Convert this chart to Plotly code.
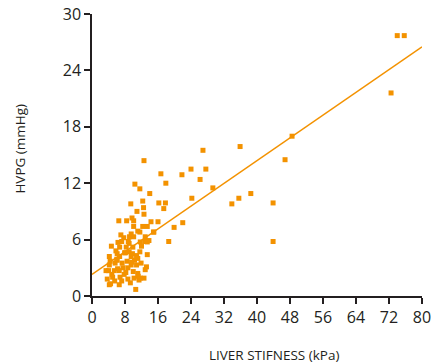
import plotly.graph_objects as go

# Liver stiffness (kPa) and HVPG (mmHg)
stiffness = [
    74.0, 75.7, 72.5, 48.5, 46.8, 35.9, 26.9, 24.0, 27.6, 21.8, 26.2, 29.3, 24.2, 38.5,
    35.6, 33.9, 43.9, 43.9, 22.0, 19.9, 18.6,
    12.6, 16.7, 17.9, 10.4, 11.6, 14.0, 12.3, 9.4, 16.2, 17.8, 12.5, 17.4, 10.9, 12.6,
    9.7, 6.5, 8.4, 10.1, 14.3, 16.0, 10.1, 12.3, 13.4, 11.6, 14.9,
    15.0, 11.1, 9.1, 7.7, 10.1, 12.9, 13.8, 6.3, 7.2, 9.0, 11.7, 13.4, 4.7, 6.7, 8.3,
    9.9, 12.0, 11.6, 9.0, 7.9, 6.1, 6.7, 4.2, 9.5, 10.8, 13.4, 6.1, 8.5, 10.3, 7.3,
    11.9, 4.2, 9.5, 10.8, 8.7, 4.0, 5.4, 6.6, 10.0, 13.2, 4.8, 7.8, 11.1, 5.0, 6.8,
    10.2, 11.7, 12.6, 4.2, 6.6, 10.6,
    12.8, 12.9, 3.4, 3.7, 8.7, 11.4, 4.5, 11.2, 5.6, 9.6, 4.4, 6.0, 8.1, 9.8, 11.1,
    7.5, 8.2, 5.8, 8.8, 7.0, 9.5, 5.5, 9.3, 7.2, 6.2,
]
hvpg = [
    27.7, 27.7, 21.6, 17.0, 14.5, 15.9, 15.5, 13.5, 13.5, 12.9, 12.4, 11.5, 10.4, 10.9,
    10.4, 9.8, 9.9, 5.8, 7.8, 7.3, 5.8,
    14.4, 13.0, 12.0, 11.9, 11.4, 10.9, 10.1, 9.8, 9.9, 9.9, 9.4, 9.3, 9.0, 8.7,
    8.3, 8.0, 8.0, 8.0, 7.9, 7.9, 7.4, 7.4, 7.4, 6.8, 6.8,
    6.8, 6.9, 6.3, 6.2, 6.3, 6.3, 5.9, 5.7, 5.8, 5.6, 5.75, 5.75, 5.3, 5.2, 5.2,
    5.2, 5.3, 4.7, 4.7, 4.6, 4.5, 4.2, 4.2, 4.2, 4.3, 4.4, 3.8, 3.7, 3.8, 3.5,
    3.5, 3.3, 3.3, 3.3, 3.0, 2.7, 2.7, 2.7, 2.6, 3.1, 2.3, 2.3, 2.4, 2.0, 2.0,
    1.9, 1.9, 1.9, 1.2, 1.2, 0.7,
    5.8, 2.8, 2.7, 1.8, 1.8, 1.7, 1.3, 2.1, 3.5, 3.6, 3.7, 3.9, 4.6, 4.5, 4.0,
    3.0, 2.5, 4.8, 5.8, 6.5, 6.6, 1.6, 1.4, 1.6, 2.9,
]

# Regression line end points
fit_x = [0, 80]
fit_y = [2.3, 26.5]

x_ticks = [0, 8, 16, 24, 32, 40, 48, 56, 64, 72, 80]
y_ticks = [0, 6, 12, 18, 24, 30]

x_title = "LIVER STIFNESS (kPa)"
y_title = "HVPG (mmHg)"

orange = "#F39200"
axis_col = "#231F20"
font_family = "Open Sans"

fig = go.Figure()
fig.add_trace(go.Scatter(x=fit_x, y=fit_y, mode="lines",
                         line=dict(color=orange, width=1.5), hoverinfo="skip"))
fig.add_trace(go.Scatter(x=stiffness, y=hvpg, mode="markers",
                         marker=dict(symbol="square", size=5, color=orange, line=dict(width=0))))

fig.update_layout(
    width=431, height=364,
    margin=dict(l=92, r=9, t=14, b=68),
    paper_bgcolor="white", plot_bgcolor="white",
    showlegend=False,
    font=dict(family=font_family, color="#231F20"),
    xaxis=dict(range=[0, 80], tickvals=x_ticks, ticks="outside", ticklen=6,
               tickcolor=axis_col, tickwidth=1.5, showline=True, linecolor=axis_col,
               linewidth=1.5, showgrid=False, zeroline=False, automargin=False,
               tickfont=dict(size=16), ticklabeloverflow="allow"),
    yaxis=dict(range=[0, 30], tickvals=y_ticks, ticks="outside", ticklen=6,
               tickcolor=axis_col, tickwidth=1.5, showline=True, linecolor=axis_col,
               linewidth=1.5, showgrid=False, zeroline=False, automargin=False,
               tickfont=dict(size=16)),
    annotations=[
        dict(text=x_title, xref="paper", yref="paper", x=0.553, y=-0.208,
             xanchor="center", yanchor="middle", showarrow=False,
             font=dict(size=13.5)),
        dict(text=y_title, xref="paper", yref="paper", x=-0.221, y=0.523,
             xanchor="center", yanchor="middle", showarrow=False, textangle=-90,
             font=dict(size=13.5)),
    ],
)

fig.write_html("out.html")
